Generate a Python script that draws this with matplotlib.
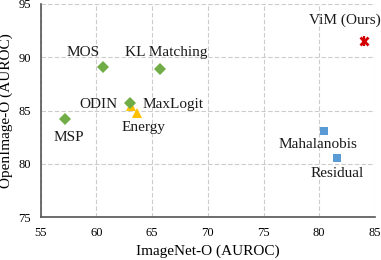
#! /usr/bin/env python3
# OOD detection methods: ImageNet-O vs OpenImage-O AUROC

import matplotlib

matplotlib.use("Agg")
import matplotlib.pyplot as plt

# Method scores (AUROC, %)
methods = ["MSP", "MOS", "KL Matching", "ODIN", "MaxLogit", "Energy",
           "Mahalanobis", "Residual", "ViM (Ours)"]
imagenet_o = [57.2, 60.6, 65.7, 63.0, 63.1, 63.6, 80.4, 81.6, 84.0]
openimage_o = [84.2, 89.1, 88.9, 85.7, 85.4, 84.8, 83.1, 80.6, 91.5]

# Label anchor positions (data coords) and alignment
label_xy = [(57.5, 82.5), (58.8, 90.4), (62.6, 90.4), (61.9, 85.6), (64.1, 85.6),
            (64.2, 83.4), (79.9, 81.8), (81.6, 79.1), (85.5, 93.5)]
label_ha = ["center", "center", "left", "right", "left", "center", "center", "center", "right"]

green, yellow, blue, red = "#70AD47", "#FFC000", "#5B9BD5", "#D40000"
styles = {
    "MSP": (green, "D", 6), "MOS": (green, "D", 6), "KL Matching": (green, "D", 6),
    "ODIN": (green, "D", 6), "MaxLogit": (yellow, "^", 7), "Energy": (yellow, "^", 7),
    "Mahalanobis": (blue, "s", 5.5), "Residual": (blue, "s", 5.5),
}
zorders = {"MaxLogit": 3, "ODIN": 4}

plt.rcParams["font.family"] = ["Liberation Serif", "DejaVu Serif"]

fig = plt.figure(figsize=(3.81, 2.60), dpi=100)
ax = fig.add_axes([0.107, 0.164, 0.877, 0.821])

for name, x, y in zip(methods, imagenet_o, openimage_o):
    if name == "ViM (Ours)":
        # Excel-style star marker: x with a vertical stroke
        ax.plot(x, y, linestyle="none", marker="x", color=red, markersize=6,
                markeredgewidth=2, zorder=5, clip_on=False)
        ax.plot(x, y, linestyle="none", marker="|", color=red, markersize=7,
                markeredgewidth=1.6, zorder=5, clip_on=False)
        continue
    color, marker, ms = styles[name]
    ax.plot(x, y, linestyle="none", marker=marker, color=color, markersize=ms,
            markeredgewidth=0, zorder=zorders.get(name, 3), clip_on=False)

for name, (tx, ty), ha in zip(methods, label_xy, label_ha):
    ax.text(tx, ty, name, ha=ha, va="center", fontsize=11, color="#1a1a1a")

ax.set_xlim(55, 85)
ax.set_ylim(75, 95)
ax.set_xticks(range(55, 86, 5))
ax.set_yticks(range(75, 96, 5))
ax.tick_params(length=0, labelsize=9, pad=7)
ax.grid(True, linestyle=(0, (4, 2)), color="#cccccc", linewidth=0.8)
ax.set_axisbelow(True)
for side in ("top", "right"):
    ax.spines[side].set_visible(False)
for side in ("left", "bottom"):
    ax.spines[side].set_color("#555555")
    ax.spines[side].set_linewidth(1.2)

ax.set_xlabel("ImageNet-O (AUROC)", fontsize=11, labelpad=4)
ax.set_ylabel("OpenImage-O (AUROC)", fontsize=11, labelpad=4)

fig.savefig("out.png", dpi=100)
